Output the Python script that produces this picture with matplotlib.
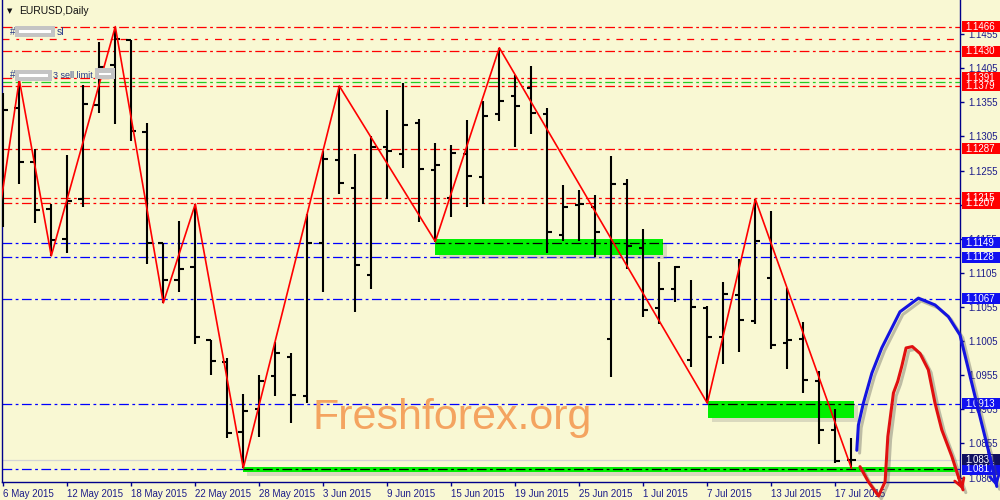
import numpy as np
import pandas as pd
import matplotlib
matplotlib.use('Agg')
import matplotlib.pyplot as plt
import matplotlib.transforms as mtransforms
import matplotlib.patheffects as pe
from matplotlib.patches import Rectangle

# EURUSD daily bars, 6 May 2015 .. 20 Jul 2015
dates = pd.bdate_range('2015-05-06', '2015-07-20')
opens = [1.1185, 1.1346, 1.1267, 1.1199, 1.1155, 1.1214, 1.1351, 1.1410, 1.1446, 1.1312,
         1.1149, 1.1094, 1.1113, 1.1007, 1.0975, 1.0872, 1.0905, 1.0954, 1.0981, 1.0924,
         1.1149, 1.1270, 1.1230, 1.1102, 1.1289, 1.1279, 1.1325, 1.1256, 1.1215, 1.1279,
         1.1246, 1.1338, 1.1364, 1.1376, 1.1338, 1.1161, 1.1204, 1.1202, 1.1008, 1.1235,
         1.1142, 1.1053, 1.1082, 1.0978, 1.1053, 1.1011, 1.1073, 1.1034, 1.1098, 1.1002,
         1.1008, 1.0947, 1.0874, 1.0831]
highs = [1.1369, 1.1388, 1.1286, 1.1206, 1.1278, 1.1381, 1.1443, 1.1466, 1.1446, 1.1324,
         1.1149, 1.1181, 1.1206, 1.1007, 1.0980, 1.0927, 1.0956, 1.1003, 1.0988, 1.1192,
         1.1283, 1.1379, 1.1279, 1.1306, 1.1344, 1.1384, 1.1330, 1.1295, 1.1293, 1.1329,
         1.1357, 1.1435, 1.1395, 1.1408, 1.1346, 1.1234, 1.1227, 1.1219, 1.1276, 1.1242,
         1.1170, 1.1121, 1.1115, 1.1095, 1.1057, 1.1091, 1.1125, 1.1213, 1.1195, 1.1083,
         1.1033, 1.0961, 1.0905, 1.0863]
lows = [1.1173, 1.1236, 1.1178, 1.1130, 1.1134, 1.1201, 1.1339, 1.1323, 1.1298, 1.1118,
        1.1061, 1.1077, 1.1001, 1.0956, 1.0863, 1.0819, 1.0865, 1.0924, 1.0885, 1.0914,
        1.1077, 1.1220, 1.1048, 1.1082, 1.1213, 1.1259, 1.1180, 1.1151, 1.1187, 1.1202,
        1.1206, 1.1328, 1.1290, 1.1309, 1.1134, 1.1152, 1.1152, 1.1128, 1.0953, 1.1110,
        1.1041, 1.1030, 1.1063, 1.0967, 1.0914, 1.0972, 1.0989, 1.1030, 1.0994, 1.0964,
        1.0929, 1.0854, 1.0827, 1.0819]
closes = [1.1344, 1.1267, 1.1197, 1.1153, 1.1211, 1.1353, 1.1407, 1.1448, 1.1313, 1.1149,
          1.1094, 1.1110, 1.1011, 1.0976, 1.0871, 1.0902, 1.0946, 1.0988, 1.0926, 1.1149,
          1.1272, 1.1237, 1.1116, 1.1290, 1.1283, 1.1322, 1.1258, 1.1263, 1.1281, 1.1247,
          1.1335, 1.1357, 1.1350, 1.1339, 1.1165, 1.1202, 1.1206, 1.1165, 1.1235, 1.1144,
          1.1051, 1.1082, 1.1113, 1.1055, 1.1011, 1.1074, 1.1036, 1.1152, 1.1000, 1.1006,
          1.0948, 1.0874, 1.0830, 1.0831]

# zigzag vertices (bar index, price); first one is off the left edge
zz_idx = [-1, 1, 3, 7, 10, 12, 15, 21, 27, 31, 44, 47, 53]
zz_px = [1.1075, 1.1388, 1.1130, 1.1466, 1.1061, 1.1206, 1.0819, 1.1379, 1.1151,
         1.1435, 1.0914, 1.1213, 1.0819]

# horizontal levels
red_levels = [1.1466, 1.1430, 1.1391, 1.1379, 1.1287, 1.1215, 1.1207]
blue_levels = [1.1149, 1.1128, 1.1067, 1.0913, 1.0817]
sl_level = 1.1448
limit_level = 1.1385
bid = 1.0831

# green zones: (bar from, bar to, price low, price high, level inside)
zones = [(27, 41.2, 1.1131, 1.1154, 1.1149),
         (44.05, 53.15, 1.0893, 1.0917, 1.0913),
         (15, 59.5, 1.0813, 1.0820, 1.0817)]

# hand drawn forecast curves (bar index, price)
blue_x = [53.34, 53.44, 53.75, 54.28, 54.90, 56.04, 57.19, 58.23, 59.06, 59.79,
          60.53, 61.04, 61.56, 62.09]
blue_y = [1.0845, 1.0882, 1.0914, 1.0958, 1.0995, 1.1048, 1.1068, 1.1058, 1.1041,
          1.1014, 1.0943, 1.0894, 1.0845, 1.0792]
red_x = [53.54, 54.06, 54.70, 55.11, 55.28, 55.63, 55.90, 56.15, 56.42, 56.81, 57.29,
         57.81, 58.23, 58.65, 59.28, 59.69, 59.98]
red_y = [1.0821, 1.0799, 1.0778, 1.0799, 1.0865, 1.0929, 1.0946, 1.0968, 1.0995,
         1.0997, 1.0987, 1.0963, 1.0914, 1.0875, 1.0836, 1.0806, 1.0787]

bg = '#F9F8D3'
navy = '#1c1c8a'
plt.rcParams['font.family'] = ['Liberation Sans', 'DejaVu Sans']
plt.rcParams['lines.scale_dashes'] = False

fig = plt.figure(figsize=(10, 5), dpi=100, facecolor=bg)
pos = [0.002, 0.036, 0.958, 0.964]
xlim = (-0.08, 59.79)
ylim = (1.07985, 1.1505)
ax = fig.add_axes(pos, facecolor=bg)
ax.set_xlim(*xlim)
ax.set_ylim(*ylim)

dashdot = (7, 2.5, 2, 2.5)
for p in red_levels:
    ax.axhline(p, color='red', lw=0.9, dashes=dashdot, zorder=1)
for p in blue_levels:
    ax.axhline(p, color='blue', lw=0.9, dashes=dashdot, zorder=1)
ax.axhline(sl_level, color='red', lw=0.9, dashes=(5, 5, 2, 5), zorder=1)
ax.axhline(limit_level, color='#22cc22', lw=0.9, dashes=dashdot, zorder=1)
ax.axhline(bid, color='#d4d4d4', lw=0.9, zorder=1)

# green zones with shadow
for x0, x1, lo, hi, lev in zones:
    r = Rectangle((x0, lo), x1 - x0, hi - lo, fc='#00F000', ec='none', zorder=2)
    r.set_path_effects([pe.SimplePatchShadow(offset=(3, -3), shadow_rgbFace='0.5', alpha=0.25),
                        pe.Normal()])
    ax.add_patch(r)
    ax.plot([x0, x1], [lev, lev], color='black', lw=0.9, dashes=dashdot, zorder=2.5)

# OHLC bars
idx = np.arange(len(dates))
ax.vlines(idx, lows, highs, color='black', lw=1.5, zorder=3)
ax.hlines(opens, idx - 0.3, idx, color='black', lw=1.5, zorder=3)
ax.hlines(closes, idx, idx + 0.3, color='black', lw=1.5, zorder=3)

# zigzag
ax.plot(zz_idx, zz_px, color='red', lw=1.2, zorder=4)

# axes styling
for s in ['left', 'bottom', 'right']:
    ax.spines[s].set_color('#00008b')
    ax.spines[s].set_linewidth(1)
ax.spines['top'].set_visible(False)

ax.yaxis.tick_right()
yt = np.arange(1.0805, 1.1456, 0.005)
ax.set_yticks(yt)
ax.set_yticklabels(['%.4f' % v for v in yt])
ax.tick_params(axis='y', direction='out', length=3, width=1, color='#00008b',
               labelsize=7, labelcolor=navy, pad=3)

xt = idx[::4]
ax.set_xticks(xt)
ax.set_xticklabels([f'{d.day} {d.strftime("%b %Y")}' for d in dates[::4]])
for lab in ax.get_xticklabels():
    lab.set_ha('left')
ax.tick_params(axis='x', direction='out', length=3, width=1, color='#00008b',
               labelsize=7, labelcolor=navy, pad=2)

# price labels on the right
trans = mtransforms.blended_transform_factory(ax.transAxes, ax.transData)
def price_label(p, fc):
    ax.add_patch(Rectangle((1.002, p - 0.0008), 0.042, 0.0016, transform=trans,
                           fc=fc, ec='none', clip_on=False, zorder=7))
    ax.text(1.006, p, '%.4f' % p, transform=trans, color='white', fontsize=7,
            va='center', ha='left', clip_on=False, zorder=8)

for p in red_levels:
    price_label(p, '#ff0000')
for p in blue_levels:
    price_label(p, '#1010f0')
price_label(bid, '#101060')

# overlay axes over the whole figure with the same scale, for the hand drawn curves
sx = (xlim[1] - xlim[0]) / pos[2]
sy = (ylim[1] - ylim[0]) / pos[3]
ov = fig.add_axes([0, 0, 1, 1], zorder=5)
ov.set_xlim(xlim[0] - pos[0] * sx, xlim[0] + (1 - pos[0]) * sx)
ov.set_ylim(ylim[0] - pos[1] * sy, ylim[0] + (1 - pos[1]) * sy)
ov.axis('off')
ov.patch.set_alpha(0)

shadow = [pe.SimpleLineShadow(offset=(2, -2), shadow_color='0.3', alpha=0.35), pe.Normal()]
for xs, ys, col in [(blue_x, blue_y, '#1414e0'), (red_x, red_y, '#e01010')]:
    ov.plot(xs, ys, color=col, lw=2.2, path_effects=shadow,
            solid_capstyle='round', solid_joinstyle='round')
    ov.annotate('', xy=(xs[-1], ys[-1]), xytext=(xs[-2], ys[-2]),
                arrowprops=dict(arrowstyle='->,head_length=0.6,head_width=0.35',
                                color=col, lw=2, shrinkA=0, shrinkB=0))

# header and order texts
fig.text(0.007, 0.978, '▼', fontsize=5, color='#101010', va='center', family='DejaVu Sans')
fig.text(0.019, 0.978, 'EURUSD,Daily', fontsize=7.5, color='#101010', va='center')
txt_col = '#2a3c8a'
fig.text(0.010, 0.936, '#', fontsize=7, color=txt_col, va='center')
fig.text(0.057, 0.936, 'sl', fontsize=7.5, color=txt_col, va='center')
fig.text(0.010, 0.849, '#', fontsize=7, color=txt_col, va='center')
fig.text(0.053, 0.849, '3 sell limit', fontsize=6.5, color=txt_col, va='center')
for bx, by, bw in [(0.015, 0.926, 0.040), (0.015, 0.839, 0.037), (0.095, 0.842, 0.020)]:
    fig.patches.append(Rectangle((bx, by), bw, 0.021, transform=fig.transFigure,
                                 fc='#c4c4c4', ec='none', zorder=9))
    fig.patches.append(Rectangle((bx + 0.004, by + 0.008), bw - 0.008, 0.005,
                                 transform=fig.transFigure, fc='white', ec='none', zorder=10))

# watermark
fig.text(0.312, 0.142, 'Freshforex.org', fontsize=31, color='#F4A460', va='baseline',
         ha='left', zorder=0.5)

fig.savefig('out.png', dpi=100, facecolor=bg)
